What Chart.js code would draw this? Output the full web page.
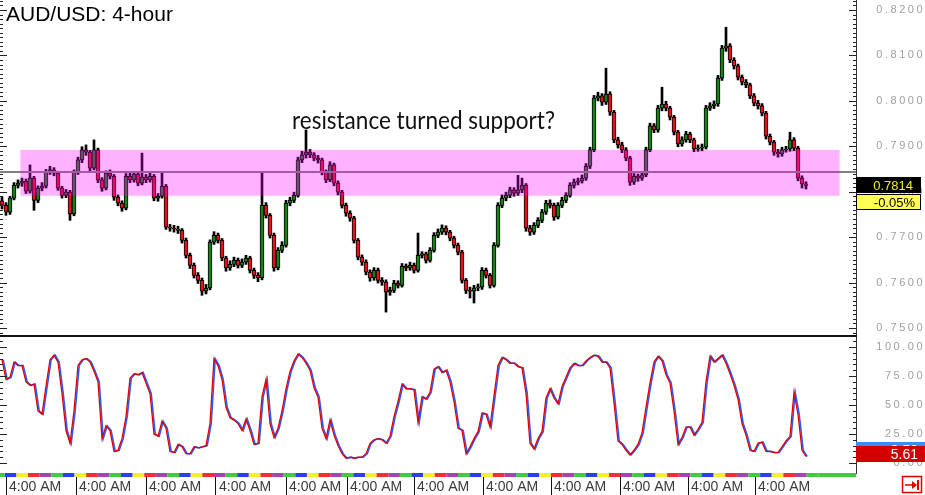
<!DOCTYPE html>
<html>
<head>
<meta charset="utf-8">
<title>AUD/USD 4-hour</title>
<script src="https://cdn.jsdelivr.net/npm/chart.js@4.4.1/dist/chart.umd.min.js"></script>
<style>
  html, body { margin: 0; padding: 0; background: #fff; }
  #wrap { position: relative; width: 925px; height: 495px; overflow: hidden; }
  canvas { position: absolute; left: 0; }
  #price { top: 0; }
  #stoch { top: 335px; }
  #title { position: absolute; left: 6px; top: 3px; font-family: "Liberation Sans", Arial, sans-serif; font-size: 21px; line-height: 21px; color: #000; white-space: nowrap; }
  #note { position: absolute; left: 292px; top: 107px; font-family: Lato, sans-serif; font-size: 25px; line-height: 25px; color: #111; white-space: nowrap; transform-origin: 0 0; }
</style>
</head>
<body>
<div id="wrap">
  <canvas id="price" width="925" height="335"></canvas>
  <canvas id="stoch" width="925" height="160"></canvas>
  <div id="title">AUD/USD: 4-hour</div>
  <div id="note">resistance turned support?</div>
</div>
<script>
// candles, prices in pips (7814 = 0.7814)
const opens = [
  7780,7770,7755,7786,7814,7819,7823,7801,7830,7781,
  7808,7812,7843,7848,7841,7808,7792,7799,7751,7843,
  7870,7892,7887,7852,7892,7826,7808,7841,7834,7788,
  7775,7764,7834,7826,7839,7819,7832,7826,7834,7786,
  7790,7812,7722,7720,7718,7715,7693,7660,7638,7616,
  7605,7581,7588,7689,7704,7693,7654,7632,7640,7649,
  7638,7645,7654,7627,7616,7610,7770,7748,7704,7632,
  7671,7682,7775,7781,7792,7870,7881,7887,7881,7874,
  7870,7843,7826,7859,7819,7799,7770,7753,7742,7693,
  7656,7645,7623,7610,7627,7605,7601,7579,7583,7599,
  7594,7636,7632,7638,7627,7660,7663,7649,7671,7704,
  7711,7720,7711,7698,7682,7667,7605,7583,7581,7588,
  7590,7627,7616,7594,7682,7770,7786,7792,7804,7797,
  7804,7814,7720,7711,7726,7737,7755,7775,7770,7744,
  7770,7781,7792,7814,7821,7824,7830,7856,7892,8006,
  8011,7997,8015,7975,7914,7903,7892,7874,7821,7834,
  7830,7837,7892,7945,7936,7984,7993,7984,7964,7931,
  7905,7914,7927,7914,7894,7896,7898,7984,7989,7993,
  8050,8116,8121,8090,8077,8052,8041,8035,8011,7995,
  7989,7973,7922,7909,7887,7883,7892,7894,7914,7896,
  7830,7817
];
const highs = [
  7788,7776,7790,7820,7826,7830,7828,7859,7834,7813,
  7820,7849,7856,7853,7845,7812,7805,7803,7848,7876,
  7899,7903,7891,7914,7896,7831,7846,7848,7838,7793,
  7780,7840,7843,7845,7844,7885,7838,7841,7838,7796,
  7841,7816,7728,7726,7724,7719,7698,7665,7643,7622,
  7610,7596,7694,7712,7709,7697,7658,7648,7656,7654,
  7652,7660,7658,7632,7622,7841,7776,7752,7709,7677,
  7690,7781,7788,7799,7876,7889,7936,7893,7886,7880,
  7874,7848,7866,7863,7824,7803,7775,7758,7746,7697,
  7661,7650,7628,7633,7632,7611,7606,7590,7605,7604,
  7642,7641,7645,7643,7709,7668,7667,7677,7710,7718,
  7727,7725,7715,7702,7687,7671,7609,7590,7594,7597,
  7633,7632,7620,7688,7776,7793,7799,7810,7809,7836,
  7830,7818,7726,7732,7743,7761,7781,7782,7775,7776,
  7788,7798,7820,7828,7830,7837,7862,7898,8012,8019,
  8016,8072,8020,7979,7920,7909,7897,7878,7840,7839,
  7843,7898,7951,7950,7990,8030,7999,7988,7968,7935,
  7921,7933,7931,7918,7903,7905,7990,7996,8000,8056,
  8122,8162,8126,8095,8081,8057,8047,8039,8016,8001,
  7994,7977,7927,7913,7893,7898,7900,7931,7919,7900,
  7835,7822
];
const lows = [
  7762,7748,7750,7782,7808,7812,7796,7797,7759,7776,
  7802,7808,7838,7835,7803,7786,7787,7737,7747,7838,
  7864,7880,7846,7848,7820,7801,7804,7828,7781,7769,
  7757,7760,7820,7821,7813,7815,7820,7821,7780,7779,
  7786,7717,7713,7711,7708,7687,7654,7631,7610,7598,
  7572,7575,7584,7684,7687,7648,7625,7627,7635,7632,
  7633,7640,7621,7609,7602,7606,7742,7698,7625,7628,
  7666,7678,7769,7776,7788,7864,7874,7875,7868,7863,
  7837,7820,7822,7813,7793,7764,7746,7735,7687,7650,
  7638,7617,7603,7605,7599,7594,7535,7572,7578,7588,
  7590,7626,7627,7621,7623,7654,7643,7645,7667,7699,
  7706,7705,7692,7676,7661,7599,7576,7566,7555,7582,
  7585,7610,7588,7590,7678,7765,7780,7787,7790,7792,
  7798,7713,7704,7706,7721,7732,7750,7764,7737,7740,
  7765,7776,7788,7808,7815,7819,7825,7851,7888,8000,
  7990,7992,7968,7908,7896,7886,7868,7814,7816,7823,
  7825,7833,7888,7930,7931,7978,7978,7958,7925,7899,
  7900,7909,7908,7888,7889,7890,7894,7979,7983,7988,
  8045,8109,8084,8070,8046,8035,8029,8005,7989,7982,
  7967,7916,7903,7880,7876,7878,7887,7889,7890,7824,
  7808,7806
];
const closes = [
  7770,7755,7786,7814,7819,7823,7801,7830,7781,7808,
  7812,7843,7848,7841,7808,7792,7799,7751,7843,7870,
  7892,7887,7852,7892,7826,7808,7841,7834,7788,7775,
  7764,7834,7826,7839,7819,7832,7826,7834,7786,7790,
  7812,7722,7720,7718,7715,7693,7660,7638,7616,7605,
  7581,7588,7689,7704,7693,7654,7632,7640,7649,7638,
  7645,7654,7627,7616,7610,7770,7748,7704,7632,7671,
  7682,7775,7781,7792,7870,7881,7887,7881,7874,7870,
  7843,7826,7859,7819,7799,7770,7753,7742,7693,7656,
  7645,7623,7610,7627,7605,7601,7579,7583,7599,7594,
  7636,7632,7638,7627,7660,7663,7649,7671,7704,7711,
  7720,7711,7698,7682,7667,7605,7583,7581,7588,7590,
  7627,7616,7594,7682,7770,7786,7792,7804,7797,7804,
  7814,7720,7711,7726,7737,7755,7775,7770,7744,7770,
  7781,7792,7814,7821,7824,7830,7856,7892,8006,8011,
  7997,8015,7975,7914,7903,7892,7874,7821,7834,7830,
  7837,7892,7945,7936,7984,7993,7984,7964,7931,7905,
  7914,7927,7914,7894,7896,7898,7984,7989,7993,8050,
  8116,8121,8090,8077,8052,8041,8035,8011,7995,7989,
  7973,7922,7909,7887,7883,7892,7894,7914,7896,7830,
  7817,7814
];
// slow stochastic, one value per candle
const stoch = [
  89,72,74,87,84,84,70,67,68,45,
  42,66,89,93,87,60,28,17,45,84,
  89,90,87,79,70,21,32,28,10,11,
  21,40,73,77,76,78,69,60,25,23,
  36,30,10,9,16,14,8,8,14,13,
  14,15,34,90,84,72,48,39,37,34,
  28,38,28,16,17,57,72,34,22,30,
  45,64,79,88,94,91,86,80,65,57,
  30,21,37,24,15,8,4,5,4,5,
  5,8,17,20,21,20,17,23,40,53,
  68,64,64,63,35,57,55,61,81,83,
  78,80,70,53,30,28,8,14,21,27,
  43,42,31,58,84,91,89,86,86,83,
  82,60,17,12,21,27,56,64,56,51,
  66,74,82,86,84,84,88,91,93,92,
  87,87,82,52,19,16,11,7,11,16,
  26,48,69,87,92,88,76,69,45,16,
  22,31,31,24,29,35,70,92,87,90,
  93,86,77,67,55,34,24,11,10,17,
  18,10,10,9,9,14,19,23,61,42,
  11,5.61
];
const stochBlueLast = 9.5;
const changePct = '-0.05%';

// time axis labels (candle position of each label)
const timeLabels = ['4:00 AM','4:00 AM','4:00 AM','4:00 AM','4:00 AM','4:00 AM','4:00 AM','4:00 AM','4:00 AM','4:00 AM','4:00 AM','4:00 AM'];
const timeSlots = [1, 18.5, 36, 53.5, 71, 86.25, 103, 120.25, 137.25, 154.5, 171.5, 188.25];

// drawn zone + level
const levelLine = 7843;
const zoneTop = 7892, zoneBottom = 7791;
const zoneFrom = 4.6, zoneTo = 209.4;

Chart.defaults.font.family = '"Liberation Sans", Arial, sans-serif';
const N = closes.length;
const X_MIN = -0.5, X_MAX = 213.5;
const dayColors = ['#3ccf3c', '#2b3ff0', '#f5ef30', '#ee3030', '#a840b8'];

// axis labels of that platform are spaced out a bit
const spacedAxis = {
  id: 'spacedAxis',
  afterLayout(chart) {
    const s = chart.scales.y;
    if (s._spaced) return;
    const draw = s.drawLabels.bind(s);
    s.drawLabels = function (area) {
      this.ctx.save();
      this.ctx.letterSpacing = '2.5px';
      draw(area);
      this.ctx.restore();
    };
    s._spaced = true;
  }
};

function sideTicks(ctx, a, scale, from, to, step, major) {
  ctx.beginPath();
  for (let v = from; v <= to; v += step) {
    const py = Math.round(scale.getPixelForValue(v)) + 0.5;
    const len = (v % major === 0) ? 7 : 3;
    ctx.moveTo(a.right - len, py); ctx.lineTo(a.right, py);
    ctx.moveTo(0, py); ctx.lineTo(len, py);
  }
  ctx.stroke();
}

const pricePlugin = {
  id: 'priceExtras',
  afterDatasetsDraw(chart) {
    const {ctx, chartArea: a, scales: {x, y}} = chart;
    ctx.save();
    const ly = Math.round(y.getPixelForValue(levelLine));
    ctx.fillStyle = '#808080';
    ctx.fillRect(a.left, ly - 1, a.right - a.left, 2);
    const x0 = x.getPixelForValue(zoneFrom), x1 = x.getPixelForValue(zoneTo);
    const y0 = y.getPixelForValue(zoneTop), y1 = y.getPixelForValue(zoneBottom);
    ctx.fillStyle = 'rgba(255, 0, 255, 0.3)';
    ctx.fillRect(x0, y0, x1 - x0, y1 - y0);
    ctx.restore();
  },
  afterDraw(chart) {
    const {ctx, chartArea: a, scales: {y}} = chart;
    ctx.save();
    ctx.strokeStyle = '#222'; ctx.lineWidth = 1;
    sideTicks(ctx, a, y, 7490, 8220, 10, 100);
    const last = closes[N - 1];
    const py = Math.round(y.getPixelForValue(last));
    ctx.fillStyle = '#000';
    ctx.fillRect(a.right, py - 8, 65, 16);
    ctx.font = '13px "Liberation Sans", Arial';
    ctx.textAlign = 'right'; ctx.textBaseline = 'middle';
    ctx.fillStyle = '#ecec1c';
    ctx.fillText((last / 10000).toFixed(4), a.right + 57, py + 1);
    ctx.fillStyle = '#ffff55';
    ctx.fillRect(a.right, py + 9, 65, 16);
    ctx.strokeStyle = '#000';
    ctx.strokeRect(a.right + 0.5, py + 9.5, 64, 15);
    ctx.fillStyle = '#000';
    ctx.fillText(changePct, a.right + 59, py + 18);
    ctx.restore();
  }
};

const stochPlugin = {
  id: 'stochExtras',
  afterDraw(chart) {
    const {ctx, chartArea: a, scales: {x, y}} = chart;
    ctx.save();
    ctx.fillStyle = '#111';
    ctx.fillRect(0, 0, a.right + 1, 2);
    ctx.strokeStyle = '#222'; ctx.lineWidth = 1;
    sideTicks(ctx, a, y, 0, 105, 5, 25);

    // day colour strip
    const s0 = -2.2, dw = 2.905;
    let d = 0, end = 0;
    while (s0 + d * dw < N - 0.5) {
      const p0 = Math.max(a.left, x.getPixelForValue(s0 + d * dw));
      end = x.getPixelForValue(s0 + (d + 1) * dw);
      ctx.fillStyle = dayColors[d % 5];
      ctx.fillRect(p0, a.bottom, end - p0, 4);
      d++;
    }
    ctx.fillStyle = dayColors[0];
    ctx.fillRect(end, a.bottom, a.right - end, 4);

    // last value boxes
    ctx.font = '14px "Liberation Sans", Arial';
    ctx.textAlign = 'right'; ctx.textBaseline = 'middle';
    const by = Math.round(y.getPixelForValue(stochBlueLast));
    ctx.fillStyle = '#3a8ef0';
    ctx.fillRect(a.right, by - 10, 69, 16);
    ctx.fillStyle = '#fff';
    ctx.fillText(stochBlueLast.toFixed(2), 918, by - 1);
    const last = stoch[N - 1];
    const ry = Math.round(y.getPixelForValue(last));
    ctx.fillStyle = '#d40000';
    ctx.fillRect(a.right, ry - 10, 69, 16);
    ctx.fillStyle = '#fff';
    ctx.fillText(last.toFixed(2), 918, ry - 1);

    // scroll-to-end button
    ctx.strokeStyle = '#e00000'; ctx.lineWidth = 1.5;
    ctx.strokeRect(902.5, 141.5, 19, 16);
    ctx.beginPath(); ctx.moveTo(905, 150); ctx.lineTo(915, 150); ctx.stroke();
    ctx.fillStyle = '#e00000';
    ctx.beginPath(); ctx.moveTo(912, 146); ctx.lineTo(917, 150); ctx.lineTo(912, 154); ctx.closePath(); ctx.fill();
    ctx.fillRect(917, 145, 2, 10);
    ctx.restore();
  }
};

const noPad = s => { s.paddingTop = 0; s.paddingBottom = 0; s.paddingLeft = 0; s.paddingRight = 0; };
const axisFont = {family: '"Liberation Sans", Arial', size: 11};

new Chart(document.getElementById('price'), {
  type: 'bar',
  data: {
    datasets: [
      {
        data: closes.map((c, i) => ({x: i, y: [opens[i], c]})),
        backgroundColor: closes.map((c, i) => c >= opens[i] ? '#1a7f1a' : '#e0121c'),
        borderColor: '#000', borderWidth: 1, borderSkipped: false,
        barThickness: 4, grouped: false
      },
      {
        data: highs.map((h, i) => ({x: i, y: [lows[i], h]})),
        backgroundColor: '#000', borderWidth: 0,
        barThickness: 2, grouped: false
      }
    ]
  },
  options: {
    responsive: false, animation: false, events: [],
    layout: {padding: 0},
    plugins: {legend: {display: false}, tooltip: {enabled: false}},
    scales: {
      x: {type: 'linear', min: X_MIN, max: X_MAX, offset: false, display: false},
      y: {
        position: 'right', min: 7484.6, max: 8222,
        grid: {display: false},
        border: {display: true, color: '#333', width: 1},
        ticks: {stepSize: 100, includeBounds: false, crossAlign: 'far', padding: 31, color: '#a0a0a0', font: axisFont,
                callback: v => (v / 10000).toFixed(4)},
        afterFit(s) { s.width = 69; noPad(s); }
      }
    }
  },
  plugins: [spacedAxis, pricePlugin]
});

new Chart(document.getElementById('stoch'), {
  type: 'line',
  data: {
    datasets: [
      {data: stoch.map((v, i) => ({x: i, y: v})), borderColor: '#e00000', borderWidth: 1.3, pointRadius: 0},
      {data: stoch.map((v, i) => ({x: i + 0.3, y: v})), borderColor: '#2a5cff', borderWidth: 1.6, pointRadius: 0}
    ]
  },
  options: {
    responsive: false, animation: false, events: [],
    layout: {padding: 0},
    plugins: {legend: {display: false}, tooltip: {enabled: false}},
    scales: {
      x: {
        type: 'linear', min: X_MIN, max: X_MAX, offset: false,
        afterBuildTicks(s) { s.ticks = timeSlots.map(v => ({value: v})); },
        grid: {drawOnChartArea: false, tickLength: 22, color: '#111'},
        border: {display: false},
        ticks: {autoSkip: false, maxRotation: 0, align: 'start', labelOffset: 3, padding: -16,
                color: '#3a3a3a', font: {family: '"Liberation Sans", Arial', size: 14},
                callback: (v, i) => timeLabels[i]},
        afterFit(s) { s.height = 22; noPad(s); }
      },
      y: {
        position: 'right', min: -8.62, max: 110.34,
        grid: {display: false},
        border: {display: true, color: '#333', width: 1},
        ticks: {stepSize: 25, includeBounds: false, crossAlign: 'far', padding: 31, color: '#a0a0a0', font: axisFont,
                callback: v => v.toFixed(2)},
        afterFit(s) { s.width = 69; noPad(s); }
      }
    }
  },
  plugins: [spacedAxis, stochPlugin]
});

// fit the annotation to the width it has on the original
const note = document.getElementById('note');
const nw = note.getBoundingClientRect().width;
note.style.transform = 'scaleX(' + (263 / nw).toFixed(3) + ')';
</script>
</body>
</html>
